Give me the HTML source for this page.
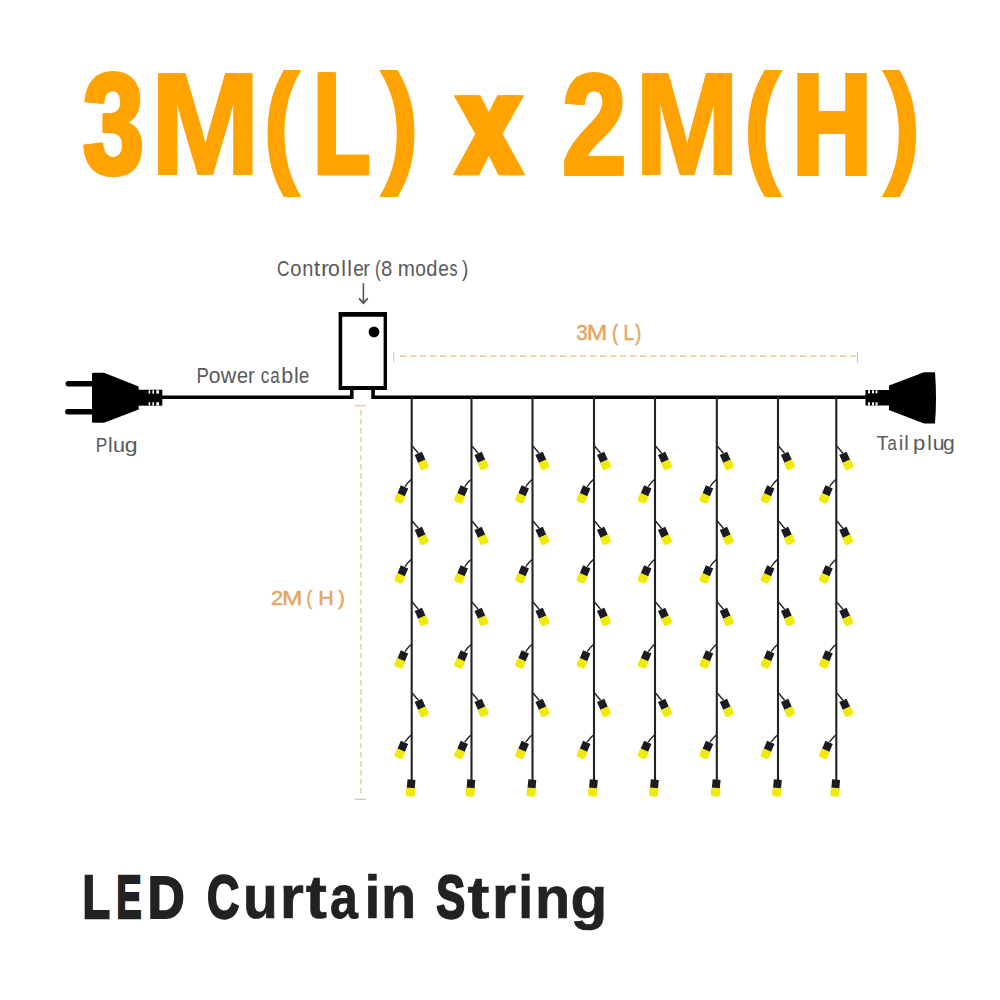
<!DOCTYPE html>
<html><head><meta charset="utf-8"><style>
html,body{margin:0;padding:0;background:#fff;}
body{width:1000px;height:1000px;overflow:hidden;position:relative;}
svg{position:absolute;left:0;top:0;}
</style></head><body>
<svg width="1000" height="1000" viewBox="0 0 1000 1000">
<g fill="#FFA300" stroke="#FFA300" stroke-linejoin="miter" font-family="Liberation Sans" font-weight="700"><text vector-effect="non-scaling-stroke" stroke-width="3.5" transform="matrix(0.05295 0 0 0.06979 82.261 173.145)" font-size="2048">3</text><text vector-effect="non-scaling-stroke" stroke-width="3.5" transform="matrix(0.05295 0 0 0.06979 84.261 173.145)" font-size="2048">3</text><text vector-effect="non-scaling-stroke" stroke-width="2" transform="matrix(0.06425 0 0 0.07097 150.198 174.000)" font-size="2048">M</text><text vector-effect="non-scaling-stroke" stroke-width="2" transform="matrix(0.06425 0 0 0.07097 150.698 174.000)" font-size="2048">M</text><text vector-effect="non-scaling-stroke" stroke-width="1.8" transform="matrix(0.05311 0 0 0.06558 262.982 168.227)" font-size="2048">(</text><text vector-effect="non-scaling-stroke" stroke-width="1.8" transform="matrix(0.05311 0 0 0.06558 263.482 168.227)" font-size="2048">(</text><text vector-effect="non-scaling-stroke" stroke-width="3.8" transform="matrix(0.04396 0 0 0.06969 312.878 173.100)" font-size="2048">L</text><text vector-effect="non-scaling-stroke" stroke-width="3.8" transform="matrix(0.04396 0 0 0.06969 315.378 173.100)" font-size="2048">L</text><text vector-effect="non-scaling-stroke" stroke-width="1.8" transform="matrix(0.05571 0 0 0.06558 380.789 168.227)" font-size="2048">)</text><text vector-effect="non-scaling-stroke" stroke-width="1.8" transform="matrix(0.05571 0 0 0.06558 381.289 168.227)" font-size="2048">)</text><text vector-effect="non-scaling-stroke" stroke-width="4" transform="matrix(0.05405 0 0 0.06932 455.243 173.000)" font-size="2048">x</text><text vector-effect="non-scaling-stroke" stroke-width="4" transform="matrix(0.05405 0 0 0.06932 461.243 173.000)" font-size="2048">x</text><text vector-effect="non-scaling-stroke" stroke-width="3" transform="matrix(0.05629 0 0 0.06993 561.504 173.500)" font-size="2048">2</text><text vector-effect="non-scaling-stroke" stroke-width="3" transform="matrix(0.05629 0 0 0.06993 563.004 173.500)" font-size="2048">2</text><text vector-effect="non-scaling-stroke" stroke-width="2" transform="matrix(0.06110 0 0 0.07097 634.629 174.000)" font-size="2048">M</text><text vector-effect="non-scaling-stroke" stroke-width="2" transform="matrix(0.06110 0 0 0.07097 635.129 174.000)" font-size="2048">M</text><text vector-effect="non-scaling-stroke" stroke-width="1.8" transform="matrix(0.05484 0 0 0.06558 743.306 168.227)" font-size="2048">(</text><text vector-effect="non-scaling-stroke" stroke-width="1.8" transform="matrix(0.05484 0 0 0.06558 743.806 168.227)" font-size="2048">(</text><text vector-effect="non-scaling-stroke" stroke-width="5" transform="matrix(0.05274 0 0 0.06884 792.275 172.500)" font-size="2048">H</text><text vector-effect="non-scaling-stroke" stroke-width="5" transform="matrix(0.05274 0 0 0.06884 793.775 172.500)" font-size="2048">H</text><text vector-effect="non-scaling-stroke" stroke-width="1.8" transform="matrix(0.05415 0 0 0.06558 883.192 168.227)" font-size="2048">)</text><text vector-effect="non-scaling-stroke" stroke-width="1.8" transform="matrix(0.05415 0 0 0.06558 883.692 168.227)" font-size="2048">)</text></g>
<g fill="#5a5a5a" font-family="Liberation Sans"><text vector-effect="non-scaling-stroke" transform="matrix(0.00848 0 0 0.01036 277.118 276.2)" font-size="2048">C</text><text vector-effect="non-scaling-stroke" transform="matrix(0.00982 0 0 0.01036 290.155 276.2)" font-size="2048">o</text><text vector-effect="non-scaling-stroke" transform="matrix(0.00977 0 0 0.01036 302.171 276.2)" font-size="2048">n</text><text vector-effect="non-scaling-stroke" transform="matrix(0.01147 0 0 0.01036 313.644 276.2)" font-size="2048">t</text><text vector-effect="non-scaling-stroke" transform="matrix(0.01172 0 0 0.01036 320.906 276.2)" font-size="2048">r</text><text vector-effect="non-scaling-stroke" transform="matrix(0.01034 0 0 0.01036 328.111 276.2)" font-size="2048">o</text><text vector-effect="non-scaling-stroke" transform="matrix(0.01036 0 0 0.01036 341.137 276.2)" font-size="2048">l</text><text vector-effect="non-scaling-stroke" transform="matrix(0.01036 0 0 0.01036 347.137 276.2)" font-size="2048">l</text><text vector-effect="non-scaling-stroke" transform="matrix(0.00937 0 0 0.01036 353.185 276.2)" font-size="2048">e</text><text vector-effect="non-scaling-stroke" transform="matrix(0.00977 0 0 0.01036 363.172 276.2)" font-size="2048">r</text><text vector-effect="non-scaling-stroke" transform="matrix(0.00829 0 0 0.01036 374.948 276.2)" font-size="2048">(</text><text vector-effect="non-scaling-stroke" transform="matrix(0.00989 0 0 0.01036 381.120 276.2)" font-size="2048">8</text><text vector-effect="non-scaling-stroke" transform="matrix(0.01010 0 0 0.01036 397.626 276.2)" font-size="2048">m</text><text vector-effect="non-scaling-stroke" transform="matrix(0.00931 0 0 0.01036 415.200 276.2)" font-size="2048">o</text><text vector-effect="non-scaling-stroke" transform="matrix(0.00977 0 0 0.01036 426.160 276.2)" font-size="2048">d</text><text vector-effect="non-scaling-stroke" transform="matrix(0.00937 0 0 0.01036 438.185 276.2)" font-size="2048">e</text><text vector-effect="non-scaling-stroke" transform="matrix(0.00784 0 0 0.01036 449.553 276.2)" font-size="2048">s</text><text vector-effect="non-scaling-stroke" transform="matrix(0.00921 0 0 0.01036 461.890 276.2)" font-size="2048">)</text></g><g fill="#5a5a5a" font-family="Liberation Sans"><text vector-effect="non-scaling-stroke" transform="matrix(0.00908 0 0 0.01043 196.474 383.3)" font-size="2048">P</text><text vector-effect="non-scaling-stroke" transform="matrix(0.01024 0 0 0.01043 208.820 383.3)" font-size="2048">o</text><text vector-effect="non-scaling-stroke" transform="matrix(0.01049 0 0 0.01043 220.831 383.3)" font-size="2048">w</text><text vector-effect="non-scaling-stroke" transform="matrix(0.00968 0 0 0.01043 237.058 383.3)" font-size="2048">e</text><text vector-effect="non-scaling-stroke" transform="matrix(0.00996 0 0 0.01043 247.945 383.3)" font-size="2048">r</text><text vector-effect="non-scaling-stroke" transform="matrix(0.00849 0 0 0.01043 260.861 383.3)" font-size="2048">c</text><text vector-effect="non-scaling-stroke" transform="matrix(0.00827 0 0 0.01043 270.181 383.3)" font-size="2048">a</text><text vector-effect="non-scaling-stroke" transform="matrix(0.01042 0 0 0.01043 281.224 383.3)" font-size="2048">b</text><text vector-effect="non-scaling-stroke" transform="matrix(0.01043 0 0 0.01043 294.021 383.3)" font-size="2048">l</text><text vector-effect="non-scaling-stroke" transform="matrix(0.00905 0 0 0.01043 298.912 383.3)" font-size="2048">e</text></g><g fill="#5a5a5a" font-family="Liberation Sans"><text vector-effect="non-scaling-stroke" transform="matrix(0.00844 0 0 0.01022 95.782 452.4)" font-size="2048">P</text><text vector-effect="non-scaling-stroke" transform="matrix(0.01022 0 0 0.01022 108.070 452.4)" font-size="2048">l</text><text vector-effect="non-scaling-stroke" transform="matrix(0.01057 0 0 0.01022 112.994 452.4)" font-size="2048">u</text><text vector-effect="non-scaling-stroke" transform="matrix(0.01129 0 0 0.01022 124.629 452.4)" font-size="2048">g</text></g><g fill="#5a5a5a" font-family="Liberation Sans"><text vector-effect="non-scaling-stroke" transform="matrix(0.00967 0 0 0.00994 876.555 450.3)" font-size="2048">T</text><text vector-effect="non-scaling-stroke" transform="matrix(0.00817 0 0 0.00994 887.489 450.3)" font-size="2048">a</text><text vector-effect="non-scaling-stroke" transform="matrix(0.00994 0 0 0.00994 898.794 450.3)" font-size="2048">i</text><text vector-effect="non-scaling-stroke" transform="matrix(0.00994 0 0 0.00994 904.185 450.3)" font-size="2048">l</text><text vector-effect="non-scaling-stroke" transform="matrix(0.01075 0 0 0.00994 912.881 450.3)" font-size="2048">p</text><text vector-effect="non-scaling-stroke" transform="matrix(0.00994 0 0 0.00994 927.135 450.3)" font-size="2048">l</text><text vector-effect="non-scaling-stroke" transform="matrix(0.01034 0 0 0.00994 932.724 450.3)" font-size="2048">u</text><text vector-effect="non-scaling-stroke" transform="matrix(0.01031 0 0 0.00994 943.113 450.3)" font-size="2048">g</text></g>
<g fill="#E3A765" stroke="#E3A765" stroke-width="0.5" font-family="Liberation Sans"><text vector-effect="non-scaling-stroke" transform="matrix(0.01009 0 0 0.01043 576.313 339.8)" font-size="2048">3</text><text vector-effect="non-scaling-stroke" transform="matrix(0.01204 0 0 0.01043 586.777 339.8)" font-size="2048">M</text><text vector-effect="non-scaling-stroke" transform="matrix(0.00902 0 0 0.01043 611.954 339.8)" font-size="2048">(</text><text vector-effect="non-scaling-stroke" transform="matrix(0.00919 0 0 0.01043 623.556 339.8)" font-size="2048">L</text><text vector-effect="non-scaling-stroke" transform="matrix(0.00884 0 0 0.01043 635.194 339.8)" font-size="2048">)</text></g><g fill="#E3A765" stroke="#E3A765" stroke-width="0.5" font-family="Liberation Sans"><text vector-effect="non-scaling-stroke" transform="matrix(0.01072 0 0 0.01022 270.896 605.4)" font-size="2048">2</text><text vector-effect="non-scaling-stroke" transform="matrix(0.01197 0 0 0.01022 281.989 605.4)" font-size="2048">M</text><text vector-effect="non-scaling-stroke" transform="matrix(0.00810 0 0 0.01022 306.571 605.4)" font-size="2048">(</text><text vector-effect="non-scaling-stroke" transform="matrix(0.01049 0 0 0.01022 318.238 605.4)" font-size="2048">H</text><text vector-effect="non-scaling-stroke" transform="matrix(0.00958 0 0 0.01022 338.285 605.4)" font-size="2048">)</text></g>
<g fill="#222" stroke="#222" stroke-width="1.0" font-family="Liberation Sans" font-weight="700"><text vector-effect="non-scaling-stroke" stroke-width="2.0" transform="matrix(0.02207 0 0 0.02938 82.376 917.8)" font-size="2048">L</text><text vector-effect="non-scaling-stroke" stroke-width="2.0" transform="matrix(0.01862 0 0 0.02938 116.148 917.8)" font-size="2048">E</text><text vector-effect="non-scaling-stroke" stroke-width="2.0" transform="matrix(0.02492 0 0 0.02938 147.686 917.8)" font-size="2048">D</text><text vector-effect="non-scaling-stroke" stroke-width="2.0" transform="matrix(0.02181 0 0 0.02938 206.968 917.8)" font-size="2048">C</text><text vector-effect="non-scaling-stroke" stroke-width="0.7" transform="matrix(0.02781 0 0 0.02938 243.019 917.8)" font-size="2048">u</text><text vector-effect="non-scaling-stroke" stroke-width="0.7" transform="matrix(0.03027 0 0 0.02938 279.664 917.8)" font-size="2048">r</text><text vector-effect="non-scaling-stroke" stroke-width="0.7" transform="matrix(0.03101 0 0 0.02938 305.775 917.8)" font-size="2048">t</text><text vector-effect="non-scaling-stroke" stroke-width="0.7" transform="matrix(0.02445 0 0 0.02938 329.883 917.8)" font-size="2048">a</text><text vector-effect="non-scaling-stroke" stroke-width="0.7" transform="matrix(0.02776 0 0 0.02938 364.481 917.8)" font-size="2048">i</text><text vector-effect="non-scaling-stroke" stroke-width="0.7" transform="matrix(0.02821 0 0 0.02938 380.942 917.8)" font-size="2048">n</text><text vector-effect="non-scaling-stroke" stroke-width="2.0" transform="matrix(0.02119 0 0 0.02938 436.250 917.8)" font-size="2048">S</text><text vector-effect="non-scaling-stroke" stroke-width="0.7" transform="matrix(0.03212 0 0 0.02938 467.547 917.8)" font-size="2048">t</text><text vector-effect="non-scaling-stroke" stroke-width="0.7" transform="matrix(0.03059 0 0 0.02938 491.721 917.8)" font-size="2048">r</text><text vector-effect="non-scaling-stroke" stroke-width="0.7" transform="matrix(0.02598 0 0 0.02938 518.135 917.8)" font-size="2048">i</text><text vector-effect="non-scaling-stroke" stroke-width="0.7" transform="matrix(0.02811 0 0 0.02938 535.055 917.8)" font-size="2048">n</text><text vector-effect="non-scaling-stroke" stroke-width="0.7" transform="matrix(0.02942 0 0 0.02938 570.379 917.8)" font-size="2048">g</text></g>
<!-- arrow -->
<g stroke="#555" stroke-width="1.6" fill="none">
<line x1="363.4" y1="283.2" x2="363.4" y2="302"/>
<path d="M359 298.4 L363.4 303.2 L367.8 298.4" stroke-width="1.8"/>
</g>
<!-- dim lines -->
<g fill="none">
<line x1="400" y1="356.2" x2="856" y2="356.2" stroke="#E0C584" stroke-width="1.2" stroke-dasharray="6.5 3.5"/>
<line x1="393.8" y1="352" x2="393.8" y2="362" stroke="#C9C2AE" stroke-width="1"/>
<line x1="857.4" y1="352" x2="857.4" y2="363" stroke="#C9C2AE" stroke-width="1"/>
<line x1="361" y1="410" x2="361" y2="797" stroke="#E0C584" stroke-width="1.2" stroke-dasharray="5.5 3.5"/>
<line x1="355" y1="405.8" x2="366" y2="405.8" stroke="#DCC596" stroke-width="1.2"/>
<line x1="355" y1="799.3" x2="366" y2="799.3" stroke="#C9C2AE" stroke-width="1.2"/>
</g>
<!-- cable -->
<g stroke="#000" stroke-width="3.6" fill="none">
<path d="M160 397.3 H351.8 V389"/>
<path d="M373.1 389 V397.3 H866"/>
</g>
<!-- controller -->
<path d="M338.6 312 H387 V390 H338.6 Z M342.2 316.8 V386 H383.6 V316.8 Z" fill="#000" fill-rule="evenodd"/>
<circle cx="374" cy="332" r="5.4" fill="#000"/>
<!-- plug -->
<g fill="#000">
<path d="M68.3 381 H93 V386.5 H68.3 A2.75 2.75 0 0 1 68.3 381 Z"/>
<path d="M67.8 409 H93 V414.5 H67.8 A2.75 2.75 0 0 1 67.8 409 Z"/>
<path d="M92 374 Q92 372.7 93.5 372.7 H104 L138.7 386.5 V409.6 L104 422.8 H93.5 Q92 422.8 92 421.5 Z"/>
<path d="M138 389.75 H162.3 V405.7 H138 Z"/>
</g>
<g fill="#fff">
<rect x="148.6" y="390.3" width="1.6" height="3.3"/><rect x="152.4" y="390.3" width="1.6" height="3.3"/><rect x="156.3" y="390.3" width="2.7" height="3.3"/>
<rect x="148.6" y="402.2" width="1.6" height="3.3"/><rect x="152.4" y="402.2" width="1.6" height="3.3"/><rect x="156.3" y="402.2" width="2.7" height="3.3"/>
</g>
<!-- tail plug -->
<g fill="#000">
<path d="M865.5 390 H889 V405.5 H865.5 Z"/>
<path d="M889 385.5 L924 372.3 H935 Q937 398 935 423.5 H924 L889 410 Z"/>
</g>
<g fill="#fff">
<rect x="868" y="390.3" width="2" height="3"/><rect x="872" y="390.3" width="2" height="3"/><rect x="875.5" y="390.3" width="2" height="3"/>
<rect x="868" y="402.3" width="2" height="3"/><rect x="872" y="402.3" width="2" height="3"/><rect x="875.5" y="402.3" width="2" height="3"/>
</g>
<!-- strings -->
<line x1="411.7" y1="397" x2="411.7" y2="781" stroke="#222" stroke-width="2.1"/><path d="M412.2 446 L418.3 453.2" stroke="#222" stroke-width="1.4" fill="none"/><g transform="translate(418.30 453.40) rotate(-24)"><rect x="-4" y="0" width="8" height="8.8" fill="#1b1b24"/><path d="M-4.5 8.4 H4.5 V14.5 Q4.5 17 2 17 H-2 Q-4.5 17 -4.5 14.5 Z" fill="#EFEA06"/></g><path d="M412.2 521 L418.3 528.2" stroke="#222" stroke-width="1.4" fill="none"/><g transform="translate(418.30 528.40) rotate(-24)"><rect x="-4" y="0" width="8" height="8.8" fill="#1b1b24"/><path d="M-4.5 8.4 H4.5 V14.5 Q4.5 17 2 17 H-2 Q-4.5 17 -4.5 14.5 Z" fill="#EFEA06"/></g><path d="M412.2 602 L418.3 609.2" stroke="#222" stroke-width="1.4" fill="none"/><g transform="translate(418.30 609.40) rotate(-24)"><rect x="-4" y="0" width="8" height="8.8" fill="#1b1b24"/><path d="M-4.5 8.4 H4.5 V14.5 Q4.5 17 2 17 H-2 Q-4.5 17 -4.5 14.5 Z" fill="#EFEA06"/></g><path d="M412.2 693 L418.3 700.2" stroke="#222" stroke-width="1.4" fill="none"/><g transform="translate(418.30 700.40) rotate(-24)"><rect x="-4" y="0" width="8" height="8.8" fill="#1b1b24"/><path d="M-4.5 8.4 H4.5 V14.5 Q4.5 17 2 17 H-2 Q-4.5 17 -4.5 14.5 Z" fill="#EFEA06"/></g><path d="M411.2 479.5 Q408.7 481.5 404.9 486.7" stroke="#222" stroke-width="1.4" fill="none"/><g transform="translate(404.50 486.90) rotate(23)"><rect x="-4" y="0" width="8" height="8.8" fill="#1b1b24"/><path d="M-4.5 8.4 H4.5 V14.5 Q4.5 17 2 17 H-2 Q-4.5 17 -4.5 14.5 Z" fill="#EFEA06"/></g><path d="M411.2 559.5 Q408.7 561.5 404.9 566.7" stroke="#222" stroke-width="1.4" fill="none"/><g transform="translate(404.50 566.90) rotate(23)"><rect x="-4" y="0" width="8" height="8.8" fill="#1b1b24"/><path d="M-4.5 8.4 H4.5 V14.5 Q4.5 17 2 17 H-2 Q-4.5 17 -4.5 14.5 Z" fill="#EFEA06"/></g><path d="M411.2 644.5 Q408.7 646.5 404.9 651.7" stroke="#222" stroke-width="1.4" fill="none"/><g transform="translate(404.50 651.90) rotate(23)"><rect x="-4" y="0" width="8" height="8.8" fill="#1b1b24"/><path d="M-4.5 8.4 H4.5 V14.5 Q4.5 17 2 17 H-2 Q-4.5 17 -4.5 14.5 Z" fill="#EFEA06"/></g><path d="M411.2 735 Q408.7 737 404.9 742.2" stroke="#222" stroke-width="1.4" fill="none"/><g transform="translate(404.50 742.40) rotate(23)"><rect x="-4" y="0" width="8" height="8.8" fill="#1b1b24"/><path d="M-4.5 8.4 H4.5 V14.5 Q4.5 17 2 17 H-2 Q-4.5 17 -4.5 14.5 Z" fill="#EFEA06"/></g><g transform="translate(411.50 779.60) rotate(5)"><rect x="-4" y="0" width="8" height="8.8" fill="#1b1b24"/><path d="M-4.5 8.4 H4.5 V14.5 Q4.5 17 2 17 H-2 Q-4.5 17 -4.5 14.5 Z" fill="#EFEA06"/></g><line x1="471.5" y1="397" x2="471.5" y2="781" stroke="#222" stroke-width="2.1"/><path d="M472.0 446 L478.1 453.2" stroke="#222" stroke-width="1.4" fill="none"/><g transform="translate(478.10 453.40) rotate(-24)"><rect x="-4" y="0" width="8" height="8.8" fill="#1b1b24"/><path d="M-4.5 8.4 H4.5 V14.5 Q4.5 17 2 17 H-2 Q-4.5 17 -4.5 14.5 Z" fill="#EFEA06"/></g><path d="M472.0 521 L478.1 528.2" stroke="#222" stroke-width="1.4" fill="none"/><g transform="translate(478.10 528.40) rotate(-24)"><rect x="-4" y="0" width="8" height="8.8" fill="#1b1b24"/><path d="M-4.5 8.4 H4.5 V14.5 Q4.5 17 2 17 H-2 Q-4.5 17 -4.5 14.5 Z" fill="#EFEA06"/></g><path d="M472.0 602 L478.1 609.2" stroke="#222" stroke-width="1.4" fill="none"/><g transform="translate(478.10 609.40) rotate(-24)"><rect x="-4" y="0" width="8" height="8.8" fill="#1b1b24"/><path d="M-4.5 8.4 H4.5 V14.5 Q4.5 17 2 17 H-2 Q-4.5 17 -4.5 14.5 Z" fill="#EFEA06"/></g><path d="M472.0 693 L478.1 700.2" stroke="#222" stroke-width="1.4" fill="none"/><g transform="translate(478.10 700.40) rotate(-24)"><rect x="-4" y="0" width="8" height="8.8" fill="#1b1b24"/><path d="M-4.5 8.4 H4.5 V14.5 Q4.5 17 2 17 H-2 Q-4.5 17 -4.5 14.5 Z" fill="#EFEA06"/></g><path d="M471.0 479.5 Q468.5 481.5 464.7 486.7" stroke="#222" stroke-width="1.4" fill="none"/><g transform="translate(464.30 486.90) rotate(23)"><rect x="-4" y="0" width="8" height="8.8" fill="#1b1b24"/><path d="M-4.5 8.4 H4.5 V14.5 Q4.5 17 2 17 H-2 Q-4.5 17 -4.5 14.5 Z" fill="#EFEA06"/></g><path d="M471.0 559.5 Q468.5 561.5 464.7 566.7" stroke="#222" stroke-width="1.4" fill="none"/><g transform="translate(464.30 566.90) rotate(23)"><rect x="-4" y="0" width="8" height="8.8" fill="#1b1b24"/><path d="M-4.5 8.4 H4.5 V14.5 Q4.5 17 2 17 H-2 Q-4.5 17 -4.5 14.5 Z" fill="#EFEA06"/></g><path d="M471.0 644.5 Q468.5 646.5 464.7 651.7" stroke="#222" stroke-width="1.4" fill="none"/><g transform="translate(464.30 651.90) rotate(23)"><rect x="-4" y="0" width="8" height="8.8" fill="#1b1b24"/><path d="M-4.5 8.4 H4.5 V14.5 Q4.5 17 2 17 H-2 Q-4.5 17 -4.5 14.5 Z" fill="#EFEA06"/></g><path d="M471.0 735 Q468.5 737 464.7 742.2" stroke="#222" stroke-width="1.4" fill="none"/><g transform="translate(464.30 742.40) rotate(23)"><rect x="-4" y="0" width="8" height="8.8" fill="#1b1b24"/><path d="M-4.5 8.4 H4.5 V14.5 Q4.5 17 2 17 H-2 Q-4.5 17 -4.5 14.5 Z" fill="#EFEA06"/></g><g transform="translate(471.30 779.60) rotate(5)"><rect x="-4" y="0" width="8" height="8.8" fill="#1b1b24"/><path d="M-4.5 8.4 H4.5 V14.5 Q4.5 17 2 17 H-2 Q-4.5 17 -4.5 14.5 Z" fill="#EFEA06"/></g><line x1="532.5" y1="397" x2="532.5" y2="781" stroke="#222" stroke-width="2.1"/><path d="M533.0 446 L539.1 453.2" stroke="#222" stroke-width="1.4" fill="none"/><g transform="translate(539.10 453.40) rotate(-24)"><rect x="-4" y="0" width="8" height="8.8" fill="#1b1b24"/><path d="M-4.5 8.4 H4.5 V14.5 Q4.5 17 2 17 H-2 Q-4.5 17 -4.5 14.5 Z" fill="#EFEA06"/></g><path d="M533.0 521 L539.1 528.2" stroke="#222" stroke-width="1.4" fill="none"/><g transform="translate(539.10 528.40) rotate(-24)"><rect x="-4" y="0" width="8" height="8.8" fill="#1b1b24"/><path d="M-4.5 8.4 H4.5 V14.5 Q4.5 17 2 17 H-2 Q-4.5 17 -4.5 14.5 Z" fill="#EFEA06"/></g><path d="M533.0 602 L539.1 609.2" stroke="#222" stroke-width="1.4" fill="none"/><g transform="translate(539.10 609.40) rotate(-24)"><rect x="-4" y="0" width="8" height="8.8" fill="#1b1b24"/><path d="M-4.5 8.4 H4.5 V14.5 Q4.5 17 2 17 H-2 Q-4.5 17 -4.5 14.5 Z" fill="#EFEA06"/></g><path d="M533.0 693 L539.1 700.2" stroke="#222" stroke-width="1.4" fill="none"/><g transform="translate(539.10 700.40) rotate(-24)"><rect x="-4" y="0" width="8" height="8.8" fill="#1b1b24"/><path d="M-4.5 8.4 H4.5 V14.5 Q4.5 17 2 17 H-2 Q-4.5 17 -4.5 14.5 Z" fill="#EFEA06"/></g><path d="M532.0 479.5 Q529.5 481.5 525.7 486.7" stroke="#222" stroke-width="1.4" fill="none"/><g transform="translate(525.30 486.90) rotate(23)"><rect x="-4" y="0" width="8" height="8.8" fill="#1b1b24"/><path d="M-4.5 8.4 H4.5 V14.5 Q4.5 17 2 17 H-2 Q-4.5 17 -4.5 14.5 Z" fill="#EFEA06"/></g><path d="M532.0 559.5 Q529.5 561.5 525.7 566.7" stroke="#222" stroke-width="1.4" fill="none"/><g transform="translate(525.30 566.90) rotate(23)"><rect x="-4" y="0" width="8" height="8.8" fill="#1b1b24"/><path d="M-4.5 8.4 H4.5 V14.5 Q4.5 17 2 17 H-2 Q-4.5 17 -4.5 14.5 Z" fill="#EFEA06"/></g><path d="M532.0 644.5 Q529.5 646.5 525.7 651.7" stroke="#222" stroke-width="1.4" fill="none"/><g transform="translate(525.30 651.90) rotate(23)"><rect x="-4" y="0" width="8" height="8.8" fill="#1b1b24"/><path d="M-4.5 8.4 H4.5 V14.5 Q4.5 17 2 17 H-2 Q-4.5 17 -4.5 14.5 Z" fill="#EFEA06"/></g><path d="M532.0 735 Q529.5 737 525.7 742.2" stroke="#222" stroke-width="1.4" fill="none"/><g transform="translate(525.30 742.40) rotate(23)"><rect x="-4" y="0" width="8" height="8.8" fill="#1b1b24"/><path d="M-4.5 8.4 H4.5 V14.5 Q4.5 17 2 17 H-2 Q-4.5 17 -4.5 14.5 Z" fill="#EFEA06"/></g><g transform="translate(532.30 779.60) rotate(5)"><rect x="-4" y="0" width="8" height="8.8" fill="#1b1b24"/><path d="M-4.5 8.4 H4.5 V14.5 Q4.5 17 2 17 H-2 Q-4.5 17 -4.5 14.5 Z" fill="#EFEA06"/></g><line x1="594" y1="397" x2="594" y2="781" stroke="#222" stroke-width="2.1"/><path d="M594.5 446 L600.6 453.2" stroke="#222" stroke-width="1.4" fill="none"/><g transform="translate(600.60 453.40) rotate(-24)"><rect x="-4" y="0" width="8" height="8.8" fill="#1b1b24"/><path d="M-4.5 8.4 H4.5 V14.5 Q4.5 17 2 17 H-2 Q-4.5 17 -4.5 14.5 Z" fill="#EFEA06"/></g><path d="M594.5 521 L600.6 528.2" stroke="#222" stroke-width="1.4" fill="none"/><g transform="translate(600.60 528.40) rotate(-24)"><rect x="-4" y="0" width="8" height="8.8" fill="#1b1b24"/><path d="M-4.5 8.4 H4.5 V14.5 Q4.5 17 2 17 H-2 Q-4.5 17 -4.5 14.5 Z" fill="#EFEA06"/></g><path d="M594.5 602 L600.6 609.2" stroke="#222" stroke-width="1.4" fill="none"/><g transform="translate(600.60 609.40) rotate(-24)"><rect x="-4" y="0" width="8" height="8.8" fill="#1b1b24"/><path d="M-4.5 8.4 H4.5 V14.5 Q4.5 17 2 17 H-2 Q-4.5 17 -4.5 14.5 Z" fill="#EFEA06"/></g><path d="M594.5 693 L600.6 700.2" stroke="#222" stroke-width="1.4" fill="none"/><g transform="translate(600.60 700.40) rotate(-24)"><rect x="-4" y="0" width="8" height="8.8" fill="#1b1b24"/><path d="M-4.5 8.4 H4.5 V14.5 Q4.5 17 2 17 H-2 Q-4.5 17 -4.5 14.5 Z" fill="#EFEA06"/></g><path d="M593.5 479.5 Q591 481.5 587.2 486.7" stroke="#222" stroke-width="1.4" fill="none"/><g transform="translate(586.80 486.90) rotate(23)"><rect x="-4" y="0" width="8" height="8.8" fill="#1b1b24"/><path d="M-4.5 8.4 H4.5 V14.5 Q4.5 17 2 17 H-2 Q-4.5 17 -4.5 14.5 Z" fill="#EFEA06"/></g><path d="M593.5 559.5 Q591 561.5 587.2 566.7" stroke="#222" stroke-width="1.4" fill="none"/><g transform="translate(586.80 566.90) rotate(23)"><rect x="-4" y="0" width="8" height="8.8" fill="#1b1b24"/><path d="M-4.5 8.4 H4.5 V14.5 Q4.5 17 2 17 H-2 Q-4.5 17 -4.5 14.5 Z" fill="#EFEA06"/></g><path d="M593.5 644.5 Q591 646.5 587.2 651.7" stroke="#222" stroke-width="1.4" fill="none"/><g transform="translate(586.80 651.90) rotate(23)"><rect x="-4" y="0" width="8" height="8.8" fill="#1b1b24"/><path d="M-4.5 8.4 H4.5 V14.5 Q4.5 17 2 17 H-2 Q-4.5 17 -4.5 14.5 Z" fill="#EFEA06"/></g><path d="M593.5 735 Q591 737 587.2 742.2" stroke="#222" stroke-width="1.4" fill="none"/><g transform="translate(586.80 742.40) rotate(23)"><rect x="-4" y="0" width="8" height="8.8" fill="#1b1b24"/><path d="M-4.5 8.4 H4.5 V14.5 Q4.5 17 2 17 H-2 Q-4.5 17 -4.5 14.5 Z" fill="#EFEA06"/></g><g transform="translate(593.80 779.60) rotate(5)"><rect x="-4" y="0" width="8" height="8.8" fill="#1b1b24"/><path d="M-4.5 8.4 H4.5 V14.5 Q4.5 17 2 17 H-2 Q-4.5 17 -4.5 14.5 Z" fill="#EFEA06"/></g><line x1="655" y1="397" x2="655" y2="781" stroke="#222" stroke-width="2.1"/><path d="M655.5 446 L661.6 453.2" stroke="#222" stroke-width="1.4" fill="none"/><g transform="translate(661.60 453.40) rotate(-24)"><rect x="-4" y="0" width="8" height="8.8" fill="#1b1b24"/><path d="M-4.5 8.4 H4.5 V14.5 Q4.5 17 2 17 H-2 Q-4.5 17 -4.5 14.5 Z" fill="#EFEA06"/></g><path d="M655.5 521 L661.6 528.2" stroke="#222" stroke-width="1.4" fill="none"/><g transform="translate(661.60 528.40) rotate(-24)"><rect x="-4" y="0" width="8" height="8.8" fill="#1b1b24"/><path d="M-4.5 8.4 H4.5 V14.5 Q4.5 17 2 17 H-2 Q-4.5 17 -4.5 14.5 Z" fill="#EFEA06"/></g><path d="M655.5 602 L661.6 609.2" stroke="#222" stroke-width="1.4" fill="none"/><g transform="translate(661.60 609.40) rotate(-24)"><rect x="-4" y="0" width="8" height="8.8" fill="#1b1b24"/><path d="M-4.5 8.4 H4.5 V14.5 Q4.5 17 2 17 H-2 Q-4.5 17 -4.5 14.5 Z" fill="#EFEA06"/></g><path d="M655.5 693 L661.6 700.2" stroke="#222" stroke-width="1.4" fill="none"/><g transform="translate(661.60 700.40) rotate(-24)"><rect x="-4" y="0" width="8" height="8.8" fill="#1b1b24"/><path d="M-4.5 8.4 H4.5 V14.5 Q4.5 17 2 17 H-2 Q-4.5 17 -4.5 14.5 Z" fill="#EFEA06"/></g><path d="M654.5 479.5 Q652 481.5 648.2 486.7" stroke="#222" stroke-width="1.4" fill="none"/><g transform="translate(647.80 486.90) rotate(23)"><rect x="-4" y="0" width="8" height="8.8" fill="#1b1b24"/><path d="M-4.5 8.4 H4.5 V14.5 Q4.5 17 2 17 H-2 Q-4.5 17 -4.5 14.5 Z" fill="#EFEA06"/></g><path d="M654.5 559.5 Q652 561.5 648.2 566.7" stroke="#222" stroke-width="1.4" fill="none"/><g transform="translate(647.80 566.90) rotate(23)"><rect x="-4" y="0" width="8" height="8.8" fill="#1b1b24"/><path d="M-4.5 8.4 H4.5 V14.5 Q4.5 17 2 17 H-2 Q-4.5 17 -4.5 14.5 Z" fill="#EFEA06"/></g><path d="M654.5 644.5 Q652 646.5 648.2 651.7" stroke="#222" stroke-width="1.4" fill="none"/><g transform="translate(647.80 651.90) rotate(23)"><rect x="-4" y="0" width="8" height="8.8" fill="#1b1b24"/><path d="M-4.5 8.4 H4.5 V14.5 Q4.5 17 2 17 H-2 Q-4.5 17 -4.5 14.5 Z" fill="#EFEA06"/></g><path d="M654.5 735 Q652 737 648.2 742.2" stroke="#222" stroke-width="1.4" fill="none"/><g transform="translate(647.80 742.40) rotate(23)"><rect x="-4" y="0" width="8" height="8.8" fill="#1b1b24"/><path d="M-4.5 8.4 H4.5 V14.5 Q4.5 17 2 17 H-2 Q-4.5 17 -4.5 14.5 Z" fill="#EFEA06"/></g><g transform="translate(654.80 779.60) rotate(5)"><rect x="-4" y="0" width="8" height="8.8" fill="#1b1b24"/><path d="M-4.5 8.4 H4.5 V14.5 Q4.5 17 2 17 H-2 Q-4.5 17 -4.5 14.5 Z" fill="#EFEA06"/></g><line x1="716.8" y1="397" x2="716.8" y2="781" stroke="#222" stroke-width="2.1"/><path d="M717.3 446 L723.4 453.2" stroke="#222" stroke-width="1.4" fill="none"/><g transform="translate(723.40 453.40) rotate(-24)"><rect x="-4" y="0" width="8" height="8.8" fill="#1b1b24"/><path d="M-4.5 8.4 H4.5 V14.5 Q4.5 17 2 17 H-2 Q-4.5 17 -4.5 14.5 Z" fill="#EFEA06"/></g><path d="M717.3 521 L723.4 528.2" stroke="#222" stroke-width="1.4" fill="none"/><g transform="translate(723.40 528.40) rotate(-24)"><rect x="-4" y="0" width="8" height="8.8" fill="#1b1b24"/><path d="M-4.5 8.4 H4.5 V14.5 Q4.5 17 2 17 H-2 Q-4.5 17 -4.5 14.5 Z" fill="#EFEA06"/></g><path d="M717.3 602 L723.4 609.2" stroke="#222" stroke-width="1.4" fill="none"/><g transform="translate(723.40 609.40) rotate(-24)"><rect x="-4" y="0" width="8" height="8.8" fill="#1b1b24"/><path d="M-4.5 8.4 H4.5 V14.5 Q4.5 17 2 17 H-2 Q-4.5 17 -4.5 14.5 Z" fill="#EFEA06"/></g><path d="M717.3 693 L723.4 700.2" stroke="#222" stroke-width="1.4" fill="none"/><g transform="translate(723.40 700.40) rotate(-24)"><rect x="-4" y="0" width="8" height="8.8" fill="#1b1b24"/><path d="M-4.5 8.4 H4.5 V14.5 Q4.5 17 2 17 H-2 Q-4.5 17 -4.5 14.5 Z" fill="#EFEA06"/></g><path d="M716.3 479.5 Q713.8 481.5 710.0 486.7" stroke="#222" stroke-width="1.4" fill="none"/><g transform="translate(709.60 486.90) rotate(23)"><rect x="-4" y="0" width="8" height="8.8" fill="#1b1b24"/><path d="M-4.5 8.4 H4.5 V14.5 Q4.5 17 2 17 H-2 Q-4.5 17 -4.5 14.5 Z" fill="#EFEA06"/></g><path d="M716.3 559.5 Q713.8 561.5 710.0 566.7" stroke="#222" stroke-width="1.4" fill="none"/><g transform="translate(709.60 566.90) rotate(23)"><rect x="-4" y="0" width="8" height="8.8" fill="#1b1b24"/><path d="M-4.5 8.4 H4.5 V14.5 Q4.5 17 2 17 H-2 Q-4.5 17 -4.5 14.5 Z" fill="#EFEA06"/></g><path d="M716.3 644.5 Q713.8 646.5 710.0 651.7" stroke="#222" stroke-width="1.4" fill="none"/><g transform="translate(709.60 651.90) rotate(23)"><rect x="-4" y="0" width="8" height="8.8" fill="#1b1b24"/><path d="M-4.5 8.4 H4.5 V14.5 Q4.5 17 2 17 H-2 Q-4.5 17 -4.5 14.5 Z" fill="#EFEA06"/></g><path d="M716.3 735 Q713.8 737 710.0 742.2" stroke="#222" stroke-width="1.4" fill="none"/><g transform="translate(709.60 742.40) rotate(23)"><rect x="-4" y="0" width="8" height="8.8" fill="#1b1b24"/><path d="M-4.5 8.4 H4.5 V14.5 Q4.5 17 2 17 H-2 Q-4.5 17 -4.5 14.5 Z" fill="#EFEA06"/></g><g transform="translate(716.60 779.60) rotate(5)"><rect x="-4" y="0" width="8" height="8.8" fill="#1b1b24"/><path d="M-4.5 8.4 H4.5 V14.5 Q4.5 17 2 17 H-2 Q-4.5 17 -4.5 14.5 Z" fill="#EFEA06"/></g><line x1="778" y1="397" x2="778" y2="781" stroke="#222" stroke-width="2.1"/><path d="M778.5 446 L784.6 453.2" stroke="#222" stroke-width="1.4" fill="none"/><g transform="translate(784.60 453.40) rotate(-24)"><rect x="-4" y="0" width="8" height="8.8" fill="#1b1b24"/><path d="M-4.5 8.4 H4.5 V14.5 Q4.5 17 2 17 H-2 Q-4.5 17 -4.5 14.5 Z" fill="#EFEA06"/></g><path d="M778.5 521 L784.6 528.2" stroke="#222" stroke-width="1.4" fill="none"/><g transform="translate(784.60 528.40) rotate(-24)"><rect x="-4" y="0" width="8" height="8.8" fill="#1b1b24"/><path d="M-4.5 8.4 H4.5 V14.5 Q4.5 17 2 17 H-2 Q-4.5 17 -4.5 14.5 Z" fill="#EFEA06"/></g><path d="M778.5 602 L784.6 609.2" stroke="#222" stroke-width="1.4" fill="none"/><g transform="translate(784.60 609.40) rotate(-24)"><rect x="-4" y="0" width="8" height="8.8" fill="#1b1b24"/><path d="M-4.5 8.4 H4.5 V14.5 Q4.5 17 2 17 H-2 Q-4.5 17 -4.5 14.5 Z" fill="#EFEA06"/></g><path d="M778.5 693 L784.6 700.2" stroke="#222" stroke-width="1.4" fill="none"/><g transform="translate(784.60 700.40) rotate(-24)"><rect x="-4" y="0" width="8" height="8.8" fill="#1b1b24"/><path d="M-4.5 8.4 H4.5 V14.5 Q4.5 17 2 17 H-2 Q-4.5 17 -4.5 14.5 Z" fill="#EFEA06"/></g><path d="M777.5 479.5 Q775 481.5 771.2 486.7" stroke="#222" stroke-width="1.4" fill="none"/><g transform="translate(770.80 486.90) rotate(23)"><rect x="-4" y="0" width="8" height="8.8" fill="#1b1b24"/><path d="M-4.5 8.4 H4.5 V14.5 Q4.5 17 2 17 H-2 Q-4.5 17 -4.5 14.5 Z" fill="#EFEA06"/></g><path d="M777.5 559.5 Q775 561.5 771.2 566.7" stroke="#222" stroke-width="1.4" fill="none"/><g transform="translate(770.80 566.90) rotate(23)"><rect x="-4" y="0" width="8" height="8.8" fill="#1b1b24"/><path d="M-4.5 8.4 H4.5 V14.5 Q4.5 17 2 17 H-2 Q-4.5 17 -4.5 14.5 Z" fill="#EFEA06"/></g><path d="M777.5 644.5 Q775 646.5 771.2 651.7" stroke="#222" stroke-width="1.4" fill="none"/><g transform="translate(770.80 651.90) rotate(23)"><rect x="-4" y="0" width="8" height="8.8" fill="#1b1b24"/><path d="M-4.5 8.4 H4.5 V14.5 Q4.5 17 2 17 H-2 Q-4.5 17 -4.5 14.5 Z" fill="#EFEA06"/></g><path d="M777.5 735 Q775 737 771.2 742.2" stroke="#222" stroke-width="1.4" fill="none"/><g transform="translate(770.80 742.40) rotate(23)"><rect x="-4" y="0" width="8" height="8.8" fill="#1b1b24"/><path d="M-4.5 8.4 H4.5 V14.5 Q4.5 17 2 17 H-2 Q-4.5 17 -4.5 14.5 Z" fill="#EFEA06"/></g><g transform="translate(777.80 779.60) rotate(5)"><rect x="-4" y="0" width="8" height="8.8" fill="#1b1b24"/><path d="M-4.5 8.4 H4.5 V14.5 Q4.5 17 2 17 H-2 Q-4.5 17 -4.5 14.5 Z" fill="#EFEA06"/></g><line x1="836.3" y1="397" x2="836.3" y2="781" stroke="#222" stroke-width="2.1"/><path d="M836.8 446 L842.9 453.2" stroke="#222" stroke-width="1.4" fill="none"/><g transform="translate(842.90 453.40) rotate(-24)"><rect x="-4" y="0" width="8" height="8.8" fill="#1b1b24"/><path d="M-4.5 8.4 H4.5 V14.5 Q4.5 17 2 17 H-2 Q-4.5 17 -4.5 14.5 Z" fill="#EFEA06"/></g><path d="M836.8 521 L842.9 528.2" stroke="#222" stroke-width="1.4" fill="none"/><g transform="translate(842.90 528.40) rotate(-24)"><rect x="-4" y="0" width="8" height="8.8" fill="#1b1b24"/><path d="M-4.5 8.4 H4.5 V14.5 Q4.5 17 2 17 H-2 Q-4.5 17 -4.5 14.5 Z" fill="#EFEA06"/></g><path d="M836.8 602 L842.9 609.2" stroke="#222" stroke-width="1.4" fill="none"/><g transform="translate(842.90 609.40) rotate(-24)"><rect x="-4" y="0" width="8" height="8.8" fill="#1b1b24"/><path d="M-4.5 8.4 H4.5 V14.5 Q4.5 17 2 17 H-2 Q-4.5 17 -4.5 14.5 Z" fill="#EFEA06"/></g><path d="M836.8 693 L842.9 700.2" stroke="#222" stroke-width="1.4" fill="none"/><g transform="translate(842.90 700.40) rotate(-24)"><rect x="-4" y="0" width="8" height="8.8" fill="#1b1b24"/><path d="M-4.5 8.4 H4.5 V14.5 Q4.5 17 2 17 H-2 Q-4.5 17 -4.5 14.5 Z" fill="#EFEA06"/></g><path d="M835.8 479.5 Q833.3 481.5 829.5 486.7" stroke="#222" stroke-width="1.4" fill="none"/><g transform="translate(829.10 486.90) rotate(23)"><rect x="-4" y="0" width="8" height="8.8" fill="#1b1b24"/><path d="M-4.5 8.4 H4.5 V14.5 Q4.5 17 2 17 H-2 Q-4.5 17 -4.5 14.5 Z" fill="#EFEA06"/></g><path d="M835.8 559.5 Q833.3 561.5 829.5 566.7" stroke="#222" stroke-width="1.4" fill="none"/><g transform="translate(829.10 566.90) rotate(23)"><rect x="-4" y="0" width="8" height="8.8" fill="#1b1b24"/><path d="M-4.5 8.4 H4.5 V14.5 Q4.5 17 2 17 H-2 Q-4.5 17 -4.5 14.5 Z" fill="#EFEA06"/></g><path d="M835.8 644.5 Q833.3 646.5 829.5 651.7" stroke="#222" stroke-width="1.4" fill="none"/><g transform="translate(829.10 651.90) rotate(23)"><rect x="-4" y="0" width="8" height="8.8" fill="#1b1b24"/><path d="M-4.5 8.4 H4.5 V14.5 Q4.5 17 2 17 H-2 Q-4.5 17 -4.5 14.5 Z" fill="#EFEA06"/></g><path d="M835.8 735 Q833.3 737 829.5 742.2" stroke="#222" stroke-width="1.4" fill="none"/><g transform="translate(829.10 742.40) rotate(23)"><rect x="-4" y="0" width="8" height="8.8" fill="#1b1b24"/><path d="M-4.5 8.4 H4.5 V14.5 Q4.5 17 2 17 H-2 Q-4.5 17 -4.5 14.5 Z" fill="#EFEA06"/></g><g transform="translate(836.10 779.60) rotate(5)"><rect x="-4" y="0" width="8" height="8.8" fill="#1b1b24"/><path d="M-4.5 8.4 H4.5 V14.5 Q4.5 17 2 17 H-2 Q-4.5 17 -4.5 14.5 Z" fill="#EFEA06"/></g>
</svg>
</body></html>
